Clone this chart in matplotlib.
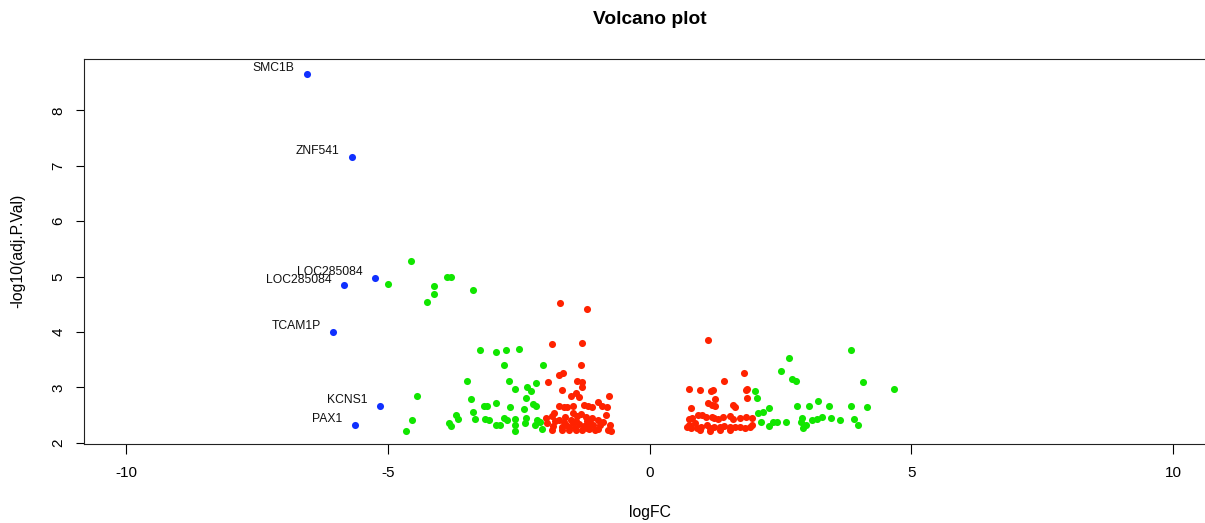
import matplotlib
matplotlib.use("Agg")
import matplotlib.pyplot as plt
import numpy as np

plt.rcParams['font.family'] = ['Liberation Sans', 'DejaVu Sans']
plt.rcParams['axes.unicode_minus'] = False

# labelled genes (blue)
genes = ['SMC1B', 'ZNF541', 'LOC285084', 'LOC285084', 'TCAM1P', 'KCNS1', 'PAX1']
gene_fc = [-6.54, -5.68, -5.24, -5.84, -6.04, -5.14, -5.62]
gene_p = [8.66, 7.16, 4.98, 4.84, 4.00, 2.67, 2.33]

# large fold change (green)
green_fc = [-4.55, -4.99, -4.11, -3.86, -3.79, -4.11, -4.24, -3.37, -3.23, -2.93,
            -2.75, -2.50, -2.77, -2.03, -3.48, -2.68, -2.56, -2.33, -2.26, -2.16,
            -4.44, -3.40, -2.35, -2.93, -3.17, -3.10, -2.66, -2.22, -2.16, -2.39,
            -3.38, -3.69, -3.65, -3.33, -3.15, -3.06, -2.77, -2.72, -2.56, -2.35,
            -2.37, -2.14, -2.10, -3.82, -3.79, -4.53, -4.65, -2.94, -2.85, -2.56,
            -2.56, -2.18, -2.05,
            2.01, 2.05, 2.28, 2.08, 2.16, 2.12, 2.28, 2.35, 2.43, 2.60,
            2.66, 2.52, 2.73, 2.79, 3.84, 4.07, 4.67, 2.81, 3.04, 3.21,
            3.42, 3.84, 4.15, 2.91, 2.89, 2.93, 2.98, 3.10, 3.19, 3.29,
            3.46, 3.63, 3.90, 3.98]
green_p = [5.28, 4.87, 4.83, 4.99, 4.99, 4.69, 4.54, 4.76, 3.68, 3.64,
           3.68, 3.70, 3.41, 3.41, 3.12, 3.12, 2.97, 3.01, 2.94, 3.08,
           2.85, 2.79, 2.81, 2.72, 2.67, 2.67, 2.65, 2.70, 2.67, 2.61,
           2.56, 2.50, 2.43, 2.43, 2.43, 2.41, 2.45, 2.41, 2.43, 2.45,
           2.36, 2.41, 2.38, 2.36, 2.31, 2.41, 2.22, 2.32, 2.32, 2.32,
           2.22, 2.32, 2.25,
           2.94, 2.81, 2.63, 2.54, 2.56, 2.38, 2.31, 2.38, 2.38, 2.38,
           3.53, 3.30, 3.15, 3.12, 3.68, 3.10, 2.97, 2.67, 2.67, 2.76,
           2.67, 2.67, 2.65, 2.45, 2.38, 2.27, 2.32, 2.41, 2.43, 2.47,
           2.45, 2.41, 2.43, 2.32]

# significant but small fold change (red)
red_fc = [-1.70, -1.19, -1.87, -1.28, -1.30, -1.72, -1.66, -1.93, -1.38, -1.28,
          -1.28, -1.68, -1.40, -1.49, -1.34, -0.78, -0.99, -0.90, -0.82, -1.72,
          -1.64, -1.57, -1.47, -1.26, -1.17, -1.09, -1.82, -1.87, -1.97, -1.47,
          -1.38, -1.30, -1.22, -1.09, -0.99, -0.88, -1.49, -1.47, -1.59, -1.53,
          -1.40, -1.34, -1.26, -1.19, -1.13, -1.07, -1.85, -1.68, -1.87, -1.68,
          -1.53, -1.40, -1.28, -1.15, -0.99, -0.80, -0.73, -1.95, -0.76, -0.94,
          -0.84, -1.61, -1.72, -1.80, -1.43, -1.20, -1.05, -1.63,
          1.11, 1.80, 1.43, 0.76, 0.96, 1.17, 1.22, 1.84, 1.87, 1.26,
          1.87, 1.11, 1.19, 1.26, 1.59, 1.64, 0.80, 0.92, 1.01, 1.07,
          1.19, 1.24, 1.30, 1.40, 1.53, 1.59, 1.72, 1.85, 1.95, 0.76,
          0.82, 0.86, 0.76, 0.71, 0.80, 0.90, 0.99, 1.09, 1.15, 1.24,
          1.34, 1.43, 1.53, 1.63, 1.72, 1.82, 1.91, 1.95, 1.34, 1.15,
          1.53, 0.96]
red_p = [4.52, 4.42, 3.79, 3.80, 3.41, 3.23, 3.26, 3.10, 3.12, 3.10,
         3.01, 2.96, 2.90, 2.85, 2.83, 2.85, 2.74, 2.67, 2.65, 2.67,
         2.65, 2.65, 2.67, 2.69, 2.67, 2.65, 2.54, 2.49, 2.45, 2.54,
         2.49, 2.52, 2.47, 2.45, 2.41, 2.38, 2.41, 2.36, 2.32, 2.29,
         2.40, 2.34, 2.31, 2.40, 2.36, 2.32, 2.31, 2.29, 2.23, 2.23,
         2.23, 2.23, 2.23, 2.25, 2.25, 2.23, 2.22, 2.36, 2.32, 2.32,
         2.50, 2.47, 2.41, 2.40, 2.27, 2.27, 2.23, 2.38,
         3.86, 3.26, 3.12, 2.97, 2.96, 2.94, 2.96, 2.96, 2.97, 2.79,
         2.81, 2.72, 2.69, 2.67, 2.69, 2.65, 2.63, 2.50, 2.50, 2.47,
         2.47, 2.45, 2.43, 2.47, 2.49, 2.43, 2.45, 2.47, 2.45, 2.43,
         2.45, 2.36, 2.32, 2.29, 2.27, 2.27, 2.29, 2.32, 2.27, 2.29,
         2.29, 2.31, 2.29, 2.29, 2.29, 2.27, 2.29, 2.32, 2.23, 2.22,
         2.23, 2.23]

xticks = [-10, -5, 0, 5, 10]
yticks = [2, 3, 4, 5, 6, 7, 8]

fig = plt.figure(figsize=(12.05, 5.23), dpi=100)
# plot region runs past the right edge, as in the original
ax = fig.add_axes([84/1205, 79/523, 1131/1205, 385/523])

ax.scatter(red_fc, red_p, s=26, color='#ff2200', linewidths=0, zorder=3)
ax.scatter(green_fc, green_p, s=26, color='#11e600', linewidths=0, zorder=3)
ax.scatter(gene_fc, gene_p, s=26, color='#1030ff', linewidths=0, zorder=4)
for g, fc, p in zip(genes, gene_fc, gene_p):
    ax.annotate(g, (fc, p), xytext=(-9, 4), textcoords='offset points',
                ha='right', va='center', fontsize=8.7, color='#111111')

ax.set_xlim(-10.8, 10.8)
ax.set_ylim(1.98, 8.925)
ax.set_xticks(xticks)
ax.set_yticks(yticks)
ax.set_xticklabels([str(t) for t in xticks])
ax.set_yticklabels([str(t) for t in yticks], rotation=90, va='center')
ax.tick_params(axis='x', length=7, width=0.8, pad=9, labelsize=11)
ax.tick_params(axis='y', length=6, width=0.8, pad=7.5, labelsize=11)
for sp in ax.spines.values():
    sp.set_linewidth(0.8)
    sp.set_color('#222222')

fig.text(650/1205, 1 - 20/523, 'Volcano plot', ha='center', va='center',
         fontsize=13.8, fontweight='bold')
fig.text(650/1205, 1 - 512/523, 'logFC', ha='center', va='center', fontsize=11.3)
fig.text(18/1205, 1 - 251/523, '-log10(adj.P.Val)', ha='center', va='center',
         rotation=90, fontsize=11.3)

plt.savefig('out.png', dpi=100)
